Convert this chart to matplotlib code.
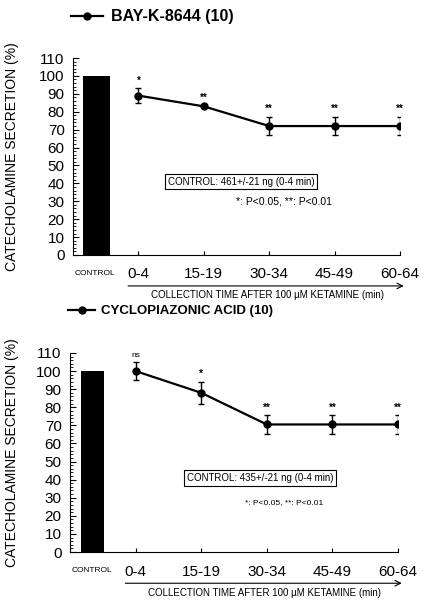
import matplotlib
matplotlib.use("Agg")
import matplotlib.pyplot as plt
from matplotlib.ticker import MultipleLocator
from matplotlib.lines import Line2D

# values (% of control)
periods = ["0-4", "15-19", "30-34", "45-49", "60-64"]
control = 100

bay_mean = [89, 83, 72, 72, 72]
bay_err = [4, 0.6, 5, 5, 5]
bay_sig = ["*", "**", "**", "**", "**"]

cpa_mean = [100, 88, 70.5, 70.5, 70.5]
cpa_err = [5, 6, 5, 5, 5]
cpa_sig = ["ns", "*", "**", "**", "**"]

plt.rcParams['font.family'] = ['Liberation Sans', 'DejaVu Sans']

fig = plt.figure(figsize=(4.23, 6.0), dpi=100)


def panel(ax, means, errs, sigs, name, name_size, note, bar_x, bar_w, note_xy,
          p_xy, p_size, ylab_x):
    x = list(range(1, len(periods) + 1))
    ax.bar([bar_x], [control], width=bar_w, color='black')
    ax.errorbar(x, means, yerr=errs, color='black', lw=1.6, marker='o', ms=5,
                capsize=2.5, elinewidth=1, capthick=1)
    for xi, m, e, s in zip(x, means, errs, sigs):
        fs = 6 if s == "ns" else 7
        ax.annotate(s, xy=(xi, m + e), xytext=(0, 2), textcoords="offset points",
                    ha='center', va='bottom', fontsize=fs,
                    fontweight='normal' if s == "ns" else 'bold')

    ax.set_xlim(0, 5)
    ax.set_ylim(0, 110)
    ax.spines['top'].set_visible(False)
    ax.spines['right'].set_visible(False)
    ax.set_xticks(x)
    ax.set_xticklabels(periods, fontsize=11)
    ax.tick_params(axis='x', direction='in', length=3, pad=9)
    ax.yaxis.set_major_locator(MultipleLocator(10))
    ax.yaxis.set_minor_locator(MultipleLocator(2))
    ax.tick_params(axis='y', which='major', direction='in', length=4, labelsize=11, pad=6)
    ax.tick_params(axis='y', which='minor', direction='in', length=2.5, width=0.6)
    ax.set_ylabel("CATECHOLAMINE SECRETION (%)", fontsize=10)
    ax.yaxis.set_label_coords(ylab_x, 0.5)

    ax.text(0.33, -0.095, "CONTROL", transform=ax.get_xaxis_transform(),
            ha='center', va='center', fontsize=6)
    ax.annotate("", xy=(5.1, -0.157), xytext=(0.8, -0.157),
                xycoords=ax.get_xaxis_transform(), textcoords=ax.get_xaxis_transform(),
                arrowprops=dict(arrowstyle='->', lw=0.8, color='black'))
    ax.text(2.97, -0.205, "COLLECTION TIME AFTER 100 \u00b5M KETAMINE (min)",
            transform=ax.get_xaxis_transform(), ha='center', va='center', fontsize=7)

    ax.text(note_xy[0], note_xy[1], note, ha='center', va='center', fontsize=7,
            bbox=dict(boxstyle='square,pad=0.3', fc='white', ec='black', lw=0.8))
    ax.text(p_xy[0], p_xy[1], "*: P<0.05, **: P<0.01", ha='center', va='center',
            fontsize=p_size)

    handle = Line2D([], [], color='black', lw=1.6, marker='o', ms=5)
    ax.legend([handle], [name], loc='center left', bbox_to_anchor=(-0.005, 1.21),
              frameon=False, borderaxespad=0, borderpad=0, handlelength=2.0,
              handletextpad=0.5, prop=dict(weight='bold', size=name_size))


ax1 = fig.add_axes([73 / 423, 1 - 255 / 600, 327 / 423, 197 / 600])
panel(ax1, bay_mean, bay_err, bay_sig, "BAY-K-8644 (10)", 11.5,
      "CONTROL: 461+/-21 ng (0-4 min)", 0.36, 0.41, (2.57, 41), (3.23, 30), 7.5,
      -0.165)

ax2 = fig.add_axes([70 / 423, 1 - 552 / 600, 328 / 423, 199 / 600])
panel(ax2, cpa_mean, cpa_err, cpa_sig, "CYCLOPIAZONIC ACID (10)", 9.5,
      "CONTROL: 435+/-21 ng (0-4 min)", 0.345, 0.35, (2.9, 41), (3.26, 27.5), 6,
      -0.155)

fig.savefig("out.png", dpi=100)
